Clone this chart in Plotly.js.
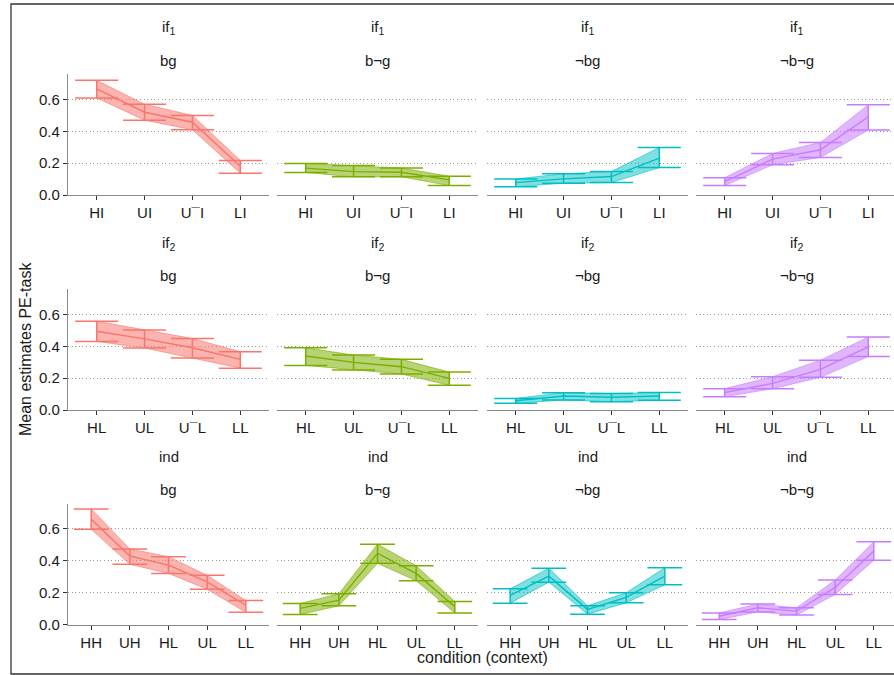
<!DOCTYPE html>
<html><head><meta charset="utf-8">
<script src="https://cdn.plot.ly/plotly-3.0.1.min.js"></script>
<style>html,body{margin:0;padding:0;overflow:hidden;background:#fff}</style>
</head><body><div id="chart" style="width:900px;height:675px"></div>
<script>
// ---- labels ----
const rowLabels = ['if<sub>1</sub>', 'if<sub>2</sub>', 'ind'];
const colLabels = ['bg', 'b¬g', '¬bg', '¬b¬g'];
const catsIf1 = ['HI', 'UI', 'U¯I', 'LI'];
const catsIf2 = ['HL', 'UL', 'U¯L', 'LL'];
const catsInd = ['HH', 'UH', 'HL', 'UL', 'LL'];
const yTicks = [0, 0.2, 0.4, 0.6];
const colors = ['#F8766D', '#7CAE00', '#00BFC4', '#C77CFF'];
const fills = ['rgba(248,118,109,0.55)', 'rgba(124,174,0,0.55)', 'rgba(0,191,196,0.5)', 'rgba(199,124,255,0.55)'];

// ---- data: if1 ----
const if1_bg_mean = [0.667, 0.52, 0.457, 0.18];
const if1_bg_lo   = [0.61, 0.47, 0.41, 0.137];
const if1_bg_hi   = [0.72, 0.57, 0.50, 0.217];
const if1_bng_mean = [0.169, 0.147, 0.143, 0.095];
const if1_bng_lo   = [0.141, 0.114, 0.114, 0.059];
const if1_bng_hi   = [0.198, 0.185, 0.169, 0.118];
const if1_nbg_mean = [0.078, 0.101, 0.116, 0.232];
const if1_nbg_lo   = [0.052, 0.074, 0.078, 0.172];
const if1_nbg_hi   = [0.101, 0.133, 0.147, 0.299];
const if1_nbng_mean = [0.084, 0.225, 0.284, 0.491];
const if1_nbng_lo   = [0.059, 0.19, 0.236, 0.409];
const if1_nbng_hi   = [0.109, 0.261, 0.33, 0.567];
// ---- data: if2 ----
const if2_bg_mean = [0.495, 0.447, 0.391, 0.318];
const if2_bg_lo   = [0.431, 0.389, 0.326, 0.263];
const if2_bg_hi   = [0.558, 0.502, 0.449, 0.366];
const if2_bng_mean = [0.339, 0.299, 0.272, 0.199];
const if2_bng_lo   = [0.28, 0.251, 0.226, 0.155];
const if2_bng_hi   = [0.391, 0.345, 0.318, 0.238];
const if2_nbg_mean = [0.058, 0.088, 0.08, 0.088];
const if2_nbg_lo   = [0.042, 0.063, 0.052, 0.061];
const if2_nbg_hi   = [0.073, 0.109, 0.104, 0.11];
const if2_nbng_mean = [0.109, 0.167, 0.255, 0.397];
const if2_nbng_lo   = [0.083, 0.134, 0.205, 0.336];
const if2_nbng_hi   = [0.134, 0.209, 0.313, 0.458];
// ---- data: ind ----
const ind_bg_mean = [0.661, 0.43, 0.373, 0.268, 0.121];
const ind_bg_lo   = [0.598, 0.378, 0.321, 0.222, 0.077];
const ind_bg_hi   = [0.726, 0.474, 0.426, 0.309, 0.151];
const ind_bng_mean = [0.101, 0.153, 0.447, 0.321, 0.111];
const ind_bng_lo   = [0.063, 0.117, 0.384, 0.275, 0.073];
const ind_bng_hi   = [0.132, 0.193, 0.504, 0.369, 0.145];
const ind_nbg_mean = [0.183, 0.304, 0.095, 0.17, 0.304];
const ind_nbg_lo   = [0.134, 0.266, 0.065, 0.136, 0.249];
const ind_nbg_hi   = [0.224, 0.353, 0.117, 0.199, 0.357];
const ind_nbng_mean = [0.052, 0.105, 0.084, 0.233, 0.462];
const ind_nbng_lo   = [0.031, 0.079, 0.059, 0.189, 0.403];
const ind_nbng_hi   = [0.073, 0.128, 0.105, 0.279, 0.52];

const rows = [
  {cats: catsIf1, panels: [[if1_bg_mean, if1_bg_lo, if1_bg_hi], [if1_bng_mean, if1_bng_lo, if1_bng_hi], [if1_nbg_mean, if1_nbg_lo, if1_nbg_hi], [if1_nbng_mean, if1_nbng_lo, if1_nbng_hi]]},
  {cats: catsIf2, panels: [[if2_bg_mean, if2_bg_lo, if2_bg_hi], [if2_bng_mean, if2_bng_lo, if2_bng_hi], [if2_nbg_mean, if2_nbg_lo, if2_nbg_hi], [if2_nbng_mean, if2_nbng_lo, if2_nbng_hi]]},
  {cats: catsInd, panels: [[ind_bg_mean, ind_bg_lo, ind_bg_hi], [ind_bng_mean, ind_bng_lo, ind_bng_hi], [ind_nbg_mean, ind_nbg_lo, ind_nbg_hi], [ind_nbng_mean, ind_nbng_lo, ind_nbng_hi]]}
];

// ---- layout geometry (pixels) ----
const W = 900, H = 675;
const colX = [[68, 269], [277, 478], [487, 688], [696, 897]];
const rowY = [[74, 195], [289, 410], [503.5, 624.5]];
const stripY = [[28, 60], [243, 275], [457, 489]];
const px = x => x / W;
const py = y => 1 - y / H;
const FONT = 'Liberation Sans, Arial, sans-serif';

const data = [];
const layout = {
  width: W, height: H,
  margin: {l: 0, r: 0, t: 0, b: 0},
  paper_bgcolor: '#fff', plot_bgcolor: 'rgba(0,0,0,0)',
  showlegend: false,
  font: {family: FONT, size: 15, color: '#1a1a1a'},
  annotations: [], shapes: []
};

let k = 0;
rows.forEach((row, r) => {
  const n = row.cats.length;
  const halfCap = (201 / (n + 0.2)) * 0.45;
  row.panels.forEach((p, c) => {
    k++;
    const xa = 'x' + (k === 1 ? '' : k), ya = 'y' + (k === 1 ? '' : k);
    const [mean, lo, hi] = p;
    const col = colors[c];
    data.push({type: 'scatter', mode: 'lines', x: row.cats, y: hi, xaxis: xa, yaxis: ya,
      line: {color: col, width: 0.6}, hoverinfo: 'skip'});
    data.push({type: 'scatter', mode: 'lines', x: row.cats, y: lo, xaxis: xa, yaxis: ya,
      line: {color: col, width: 0.6}, fill: 'tonexty', fillcolor: fills[c], hoverinfo: 'skip'});
    data.push({type: 'scatter', mode: 'lines', x: row.cats, y: mean, xaxis: xa, yaxis: ya,
      line: {color: col, width: 1.4},
      error_y: {type: 'data', symmetric: false,
        array: hi.map((h, i) => h - mean[i]), arrayminus: lo.map((l, i) => mean[i] - l),
        color: col, thickness: 1.5, width: halfCap}});
    layout['xaxis' + (k === 1 ? '' : k)] = {
      domain: [px(colX[c][0]), px(colX[c][1])], anchor: ya,
      type: 'category', categoryorder: 'array', categoryarray: row.cats,
      range: [-0.6, n - 0.4], fixedrange: true,
      showline: true, linecolor: '#8a8a8a', linewidth: 1.2,
      ticks: 'outside', ticklen: 4, tickcolor: '#333', tickwidth: 1,
      showgrid: false, zeroline: false,
      tickfont: {family: FONT, size: 15, color: '#1a1a1a'}
    };
    const first = c === 0;
    layout['yaxis' + (k === 1 ? '' : k)] = {
      domain: [py(rowY[r][1]), py(rowY[r][0])], anchor: xa,
      range: [0, 0.76], fixedrange: true,
      tickvals: yTicks, tickformat: '.1f',
      showgrid: true, gridcolor: '#9a9a9a', griddash: '1px,2.6px', gridwidth: 1,
      zeroline: false,
      showline: first, linecolor: '#8a8a8a', linewidth: 1.2,
      ticks: first ? 'outside' : '', ticklen: 4, tickcolor: '#333',
      showticklabels: first,
      tickfont: {family: FONT, size: 15, color: '#1a1a1a'}
    };
    const cx = (colX[c][0] + colX[c][1]) / 2;
    layout.annotations.push({xref: 'paper', yref: 'paper', x: px(cx), y: py(stripY[r][0]),
      text: rowLabels[r], showarrow: false, xanchor: 'center', yanchor: 'middle',
      font: {family: FONT, size: 15, color: '#1a1a1a'}});
    layout.annotations.push({xref: 'paper', yref: 'paper', x: px(cx), y: py(stripY[r][1]),
      text: colLabels[c], showarrow: false, xanchor: 'center', yanchor: 'middle',
      font: {family: FONT, size: 15, color: '#1a1a1a'}});
  });
});

layout.annotations.push({xref: 'paper', yref: 'paper', x: px(25), y: py(349),
  text: 'Mean estimates PE-task', textangle: -90, showarrow: false,
  xanchor: 'center', yanchor: 'middle', font: {family: FONT, size: 16, color: '#1a1a1a'}});
layout.annotations.push({xref: 'paper', yref: 'paper', x: px(482), y: py(657),
  text: 'condition (context)', showarrow: false,
  xanchor: 'center', yanchor: 'middle', font: {family: FONT, size: 16, color: '#1a1a1a'}});

layout.shapes.push({type: 'rect', xref: 'paper', yref: 'paper',
  x0: px(11), x1: px(910), y0: py(674), y1: py(4),
  line: {color: '#333', width: 1.3}, fillcolor: 'rgba(0,0,0,0)', layer: 'above'});

Plotly.newPlot('chart', data, layout, {displayModeBar: false, staticPlot: true});
</script>
</body></html>
